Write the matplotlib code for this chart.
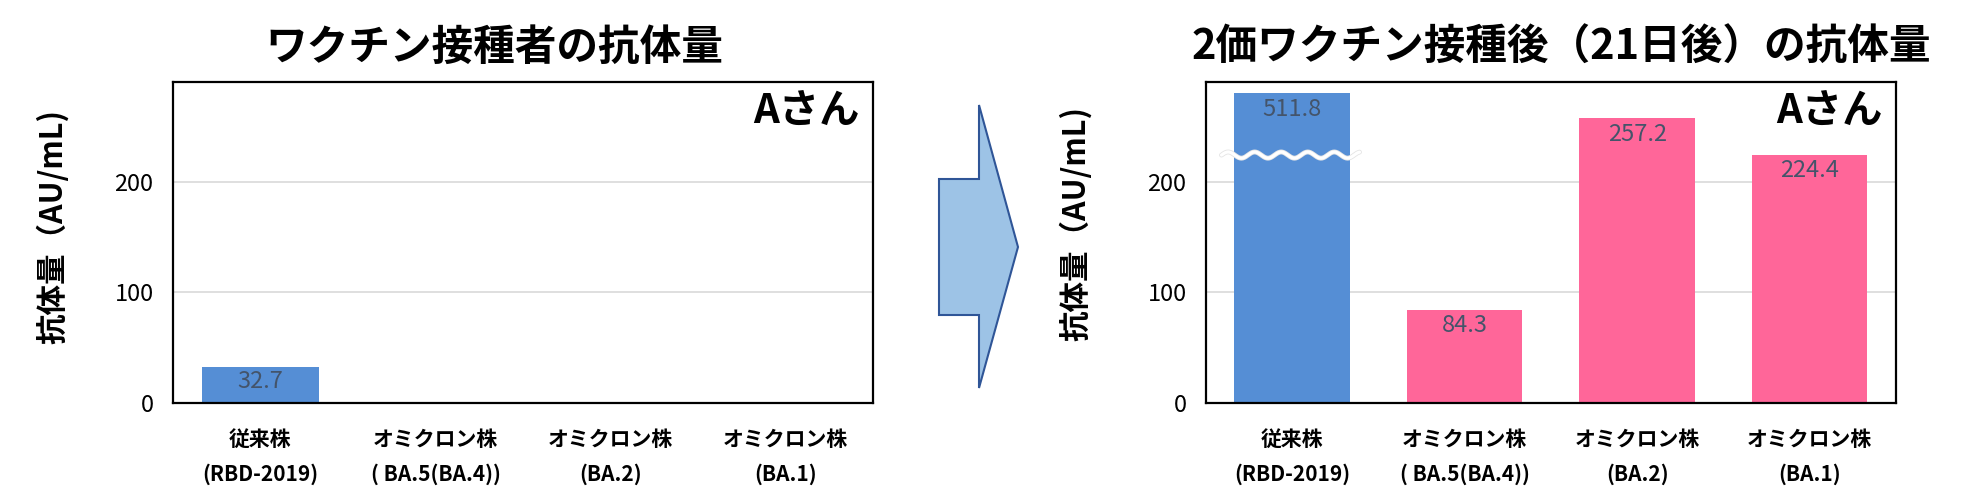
import numpy as np
import matplotlib.pyplot as plt
from matplotlib.patches import Polygon
import matplotlib.patheffects as pe

plt.rcParams['font.family'] = ['Noto Sans CJK JP', 'DejaVu Sans']

categories = ['従来株\n(RBD-2019)', 'オミクロン株\n( BA.5(BA.4))', 'オミクロン株\n(BA.2)', 'オミクロン株\n(BA.1)']
before_vals = [32.7, 0, 0, 0]
before_labels = ['32.7', '', '', '']
# first bar of the right chart is drawn cut (axis break), real value in the label
after_vals = [280, 84.3, 257.2, 224.4]
after_labels = ['511.8', '84.3', '257.2', '224.4']
yticks = [0, 100, 200]

BLUE = '#558ED5'
PINK = '#FF6699'
LABEL_C = '#44546A'

fig = plt.figure(figsize=(19.77, 4.92), dpi=100)
ax1 = fig.add_axes([0.0875, 0.1809, 0.3541, 0.6524])
ax2 = fig.add_axes([0.6100, 0.1809, 0.3490, 0.6524])


def style(ax):
    ax.set_ylim(0, 290)
    ax.set_xlim(-0.5, 3.5)
    ax.set_yticks(yticks)
    ax.set_yticklabels([str(t) for t in yticks], fontsize=17)
    ax.yaxis.grid(True, color='#D9D9D9', linewidth=1.2)
    ax.set_axisbelow(True)
    ax.tick_params(axis='y', length=0, pad=14)
    ax.tick_params(axis='x', length=0, pad=19)
    ax.set_xticks(range(len(categories)))
    ax.set_xticklabels(categories, fontsize=15, fontweight='bold', linespacing=1.75)
    for s in ax.spines.values():
        s.set_linewidth(1.6)
        s.set_color('black')
    ax.set_ylabel('抗体量（AU/mL)', fontsize=22, fontweight='bold')
    ax.text(0.98, 0.905, 'Aさん', transform=ax.transAxes, ha='right', va='center',
            fontsize=29, fontweight='bold')


# left chart
b1 = ax1.bar(range(4), before_vals, width=0.67, color=[BLUE, PINK, PINK, PINK])
for rect, lab in zip(b1, before_labels):
    if lab:
        ax1.text(rect.get_x() + rect.get_width() / 2, rect.get_height() - 3, lab,
                 ha='center', va='top', fontsize=17, color=LABEL_C)
style(ax1)
ax1.yaxis.set_label_coords(-0.149, 0.55)

# right chart
b2 = ax2.bar(range(4), after_vals, width=0.67, color=[BLUE, PINK, PINK, PINK])
for rect, lab in zip(b2, after_labels):
    ax2.text(rect.get_x() + rect.get_width() / 2, rect.get_height() - 4, lab,
             ha='center', va='top', fontsize=17, color=LABEL_C)
style(ax2)
ax2.yaxis.set_label_coords(-0.165, 0.56)

# wavy break mark on the first bar
wx = np.linspace(-0.41, 0.39, 200)
wy = 224 + 2.8 * np.sin((wx + 0.41) / 0.80 * 2 * np.pi * 5.2)
ax2.plot(wx, wy, color='white', linewidth=2.3, solid_capstyle='round',
         path_effects=[pe.Stroke(linewidth=3.5, foreground='#E4E4E4'), pe.Normal()])

# titles
fig.text(0.250, 0.902, 'ワクチン接種者の抗体量', ha='center', va='center',
         fontsize=30, fontweight='bold')
fig.text(0.7896, 0.902, '2価ワクチン接種後（21日後）の抗体量', ha='center', va='center',
         fontsize=30, fontweight='bold')

# block arrow between the charts
W, H = 1977, 492
pts = [(939, 179), (979, 179), (979, 105), (1018, 247), (979, 388), (979, 315), (939, 315)]
arrow = Polygon([(x / W, 1 - y / H) for x, y in pts], closed=True,
                facecolor='#9DC3E6', edgecolor='#2F5597', linewidth=1.5,
                transform=fig.transFigure)
fig.patches.append(arrow)

fig.savefig('out.png', dpi=100)
